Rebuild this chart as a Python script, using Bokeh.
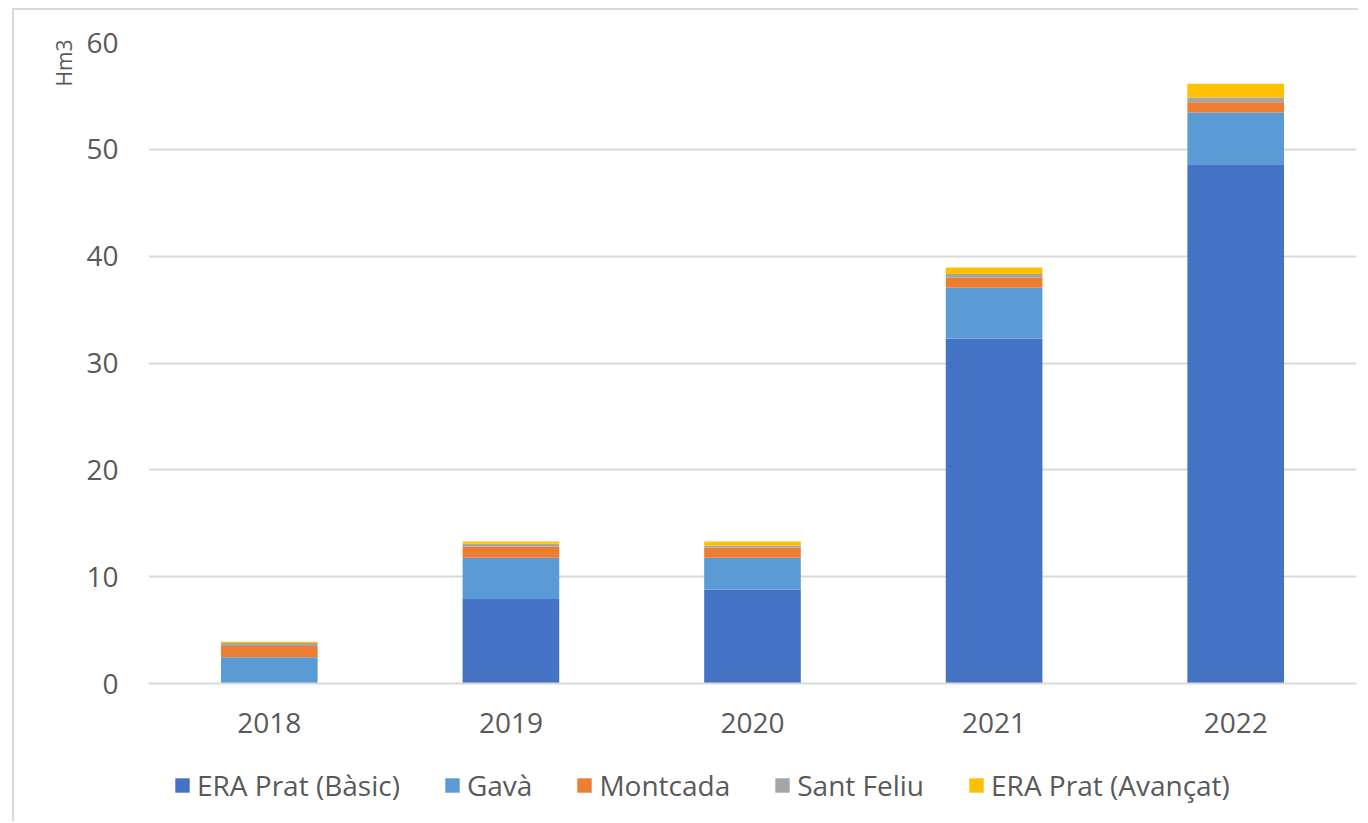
from bokeh.plotting import figure
from bokeh.layouts import column
from bokeh.models import ColumnDataSource, Legend, LegendItem, Title, FactorRange, Range1d
from bokeh.embed import file_html
from bokeh.resources import INLINE

years = ["2018", "2019", "2020", "2021", "2022"]
series = ["ERA Prat (Bàsic)", "Gavà", "Montcada", "Sant Feliu", "ERA Prat (Avançat)"]
era_basic = [0.0, 7.9, 8.8, 32.3, 48.6]
gava = [2.45, 3.87, 2.97, 4.75, 4.85]
montcada = [1.05, 1.06, 0.93, 0.93, 0.95]
sant_feliu = [0.28, 0.25, 0.22, 0.35, 0.45]
era_avancat = [0.13, 0.22, 0.38, 0.6, 1.3]
colors = ["#4472C4", "#5B9BD5", "#ED7D31", "#A5A5A5", "#FFC000"]
y_ticks = [0, 10, 20, 30, 40, 50, 60]

keys = ["b", "g", "m", "s", "a"]
src = ColumnDataSource(dict(year=years, b=era_basic, g=gava, m=montcada, s=sant_feliu, a=era_avancat))

FONT = "Open Sans"
TXT = "#595959"
GRID = "#D9D9D9"

p = figure(x_range=FactorRange(*years, range_padding=0), y_range=Range1d(0, 60),
           width=1346, height=743, output_backend="svg", toolbar_location=None,
           min_border_left=134, min_border_right=4, min_border_top=32, min_border_bottom=70)
p.outline_line_color = None
p.styles = {"margin-left": "12px", "margin-top": "8px",
            "border-left": "2px solid #D9D9D9", "border-top": "2px solid #D9D9D9"}

rs = p.vbar_stack(keys, x="year", width=0.4, color=colors, line_color=None, source=src)

p.yaxis.ticker = y_ticks
p.yaxis.axis_line_color = None
p.yaxis.major_tick_line_color = None
p.yaxis.minor_tick_line_color = None
p.yaxis.major_label_text_font = FONT
p.yaxis.major_label_text_font_size = "28px"
p.yaxis.major_label_text_color = TXT
p.yaxis.major_label_standoff = 24

p.xaxis.axis_line_color = GRID
p.xaxis.axis_line_width = 2
p.xaxis.major_tick_line_color = None
p.xaxis.minor_tick_line_color = None
p.xaxis.major_label_text_font = FONT
p.xaxis.major_label_text_font_size = "28px"
p.xaxis.major_label_text_color = TXT
p.xaxis.major_label_standoff = 23

p.xgrid.grid_line_color = None
p.ygrid.grid_line_color = GRID
p.ygrid.grid_line_width = 2

ttl = Title(text="Hm3", align="right", offset=-3, text_font=FONT, text_font_size="21px",
            text_color=TXT, text_font_style="normal", standoff=12)
p.add_layout(ttl, "left")

# legend strip below the chart (same stacked series, drawn out of view; only the legend shows)
p2 = figure(width=1346, height=70, x_range=FactorRange(*years, range_padding=0), y_range=Range1d(100, 101),
            x_axis_type=None, y_axis_type=None, output_backend="svg", toolbar_location=None,
            min_border=0)
p2.outline_line_color = None
p2.grid.visible = False
p2.styles = {"margin-left": "12px", "border-left": "2px solid #D9D9D9"}

proxies = p2.vbar_stack(keys, x="year", width=0.4, color=colors, line_color=None, source=src)

items = [LegendItem(label=s, renderers=[r]) for s, r in zip(series, proxies)]
legend = Legend(items=items, orientation="horizontal", location=(25, 17),
                label_text_font=FONT, label_text_font_size="28px", label_text_color=TXT,
                glyph_width=18, glyph_height=18, label_standoff=6, spacing=43,
                border_line_color=None, background_fill_alpha=0, padding=0, margin=0)
p2.add_layout(legend, "center")

layout = column(p, p2, spacing=0)
open("out.html", "w").write(file_html(layout, INLINE))
